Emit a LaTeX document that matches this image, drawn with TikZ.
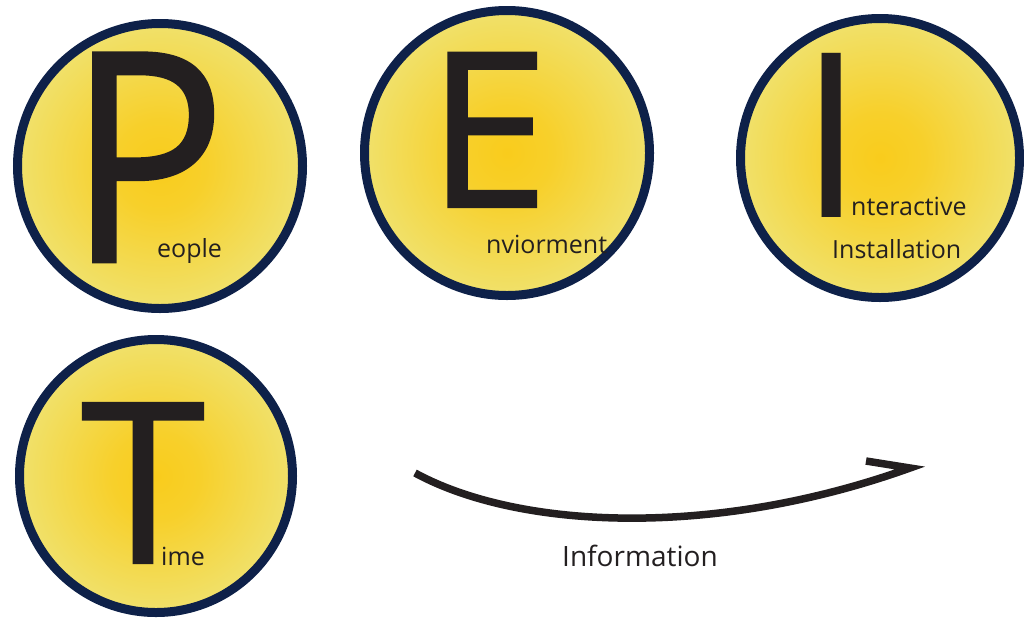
\documentclass[tikz,border=0pt]{standalone}
\usepackage{fontspec}
\setmainfont{Open Sans}
\newfontfamily\heavyface[FakeBold=1]{Open Sans}
\definecolor{ring}{HTML}{0E2149}
\definecolor{sunA}{HTML}{F9CC1C}
\definecolor{sunB}{HTML}{EEE67E}
\definecolor{ink}{HTML}{231F20}
\pgfdeclareradialshading{sunfill}{\pgfpoint{0bp}{0bp}}{%
  color(0bp)=(sunA); color(8bp)=(sunA!85!sunB); color(30bp)=(sunB); color(50bp)=(sunB)}
\tikzset{
  disc/.style={circle, inner sep=0pt, draw=ring, line width=9pt, shading=sunfill},
  bigletter/.style={anchor=base, text=ink, inner ysep=0pt, inner xsep=-10pt},
  caption/.style={anchor=base west, text=ink, inner sep=0pt, font=\fontsize{25}{25}\selectfont},
}
\begin{document}
\begin{tikzpicture}[x=1pt, y=-1pt]
  \useasboundingbox (0,0) rectangle (1024,619);

  % the four discs
  \node[disc, minimum size=285pt] (pdisc) at (160,166) {};
  \node[disc, minimum size=285pt] (edisc) at (507,153) {};
  \node[disc, minimum size=279pt] (idisc) at (880,158) {};
  \node[disc, minimum size=273pt] (tdisc) at (156,476) {};

  % initials
  \node[bigletter, font=\heavyface\fontsize{293}{293}\selectfont, xscale=0.9] (pl) at (147,262) {P};
  \node[bigletter, font=\heavyface\fontsize{216}{216}\selectfont, xscale=1.02] (el) at (488,207) {E};
  \node[bigletter, font=\fontsize{230}{230}\selectfont] (il) at (832,217) {I};
  \node[bigletter, font=\heavyface\fontsize{224}{224}\selectfont] (tl) at (143,563) {T};

  % word endings
  \node[caption] (pw) at (157,257) {eople};
  \node[caption] (ew) at (486,253) {nviorment};
  \node[caption] (iw) at (851,215) {nteractive};
  \node[caption] (iw2) at (832,258) {Installation};
  \node[caption] (tw) at (161,565) {ime};

  % information arrow
  \coordinate (ia) at (415,473);
  \coordinate (ib) at (910,468);
  \coordinate (ibarb) at (866,461);
  \draw[line width=7.5pt, draw=ink, line join=miter] (ia) .. controls (520,530) and (715,538) .. (ib) -- (ibarb);
  \node[caption, font=\fontsize{28}{28}\selectfont] (info) at (562,566) {Information};
\end{tikzpicture}
\end{document}
